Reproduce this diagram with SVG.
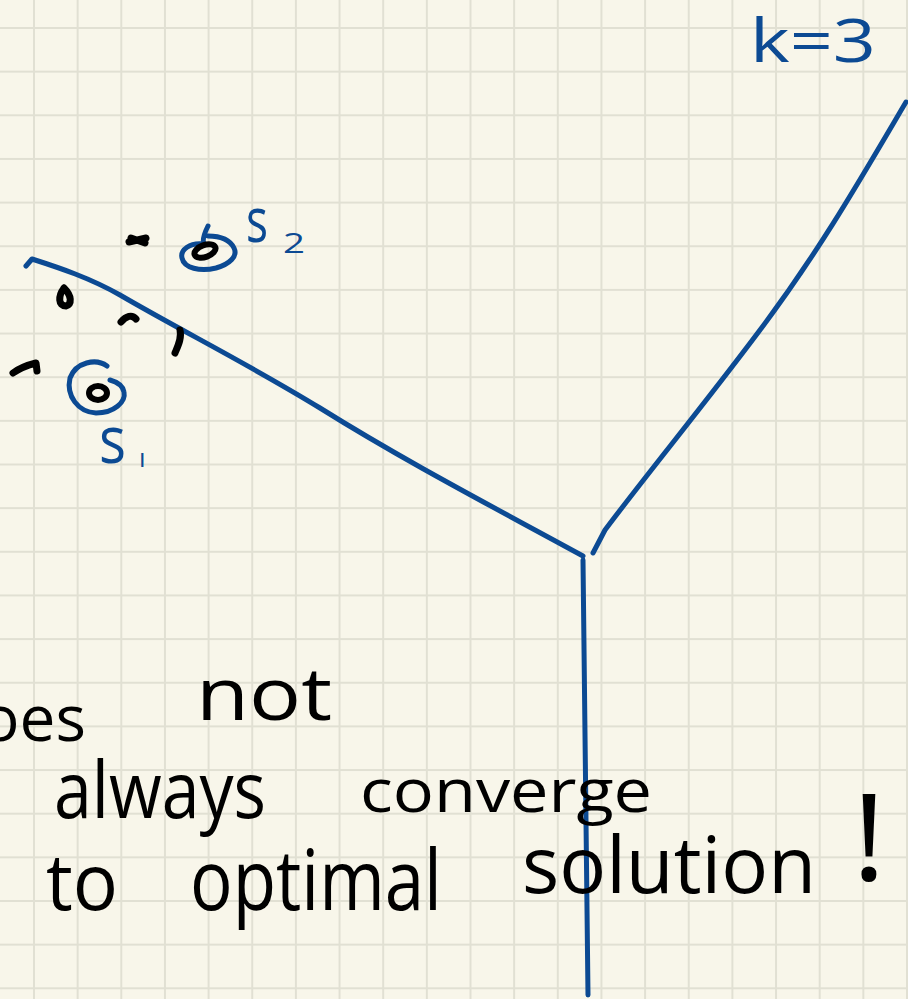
<svg xmlns="http://www.w3.org/2000/svg" width="908" height="999" viewBox="0 0 908 999">
<defs>
<pattern id="grid" patternUnits="userSpaceOnUse" x="33" y="27" width="43.65" height="43.65">
<rect x="0" y="0" width="2" height="43.65" fill="#e1e0d3"/>
<rect x="0" y="0" width="43.65" height="2" fill="#e1e0d3"/>
</pattern>
<style>
.blue{fill:none;stroke:#0c4a93;stroke-width:5;stroke-linecap:round;stroke-linejoin:round}
.ink{fill:none;stroke:#000;stroke-width:7;stroke-linecap:round;stroke-linejoin:round}
.hw{font-family:"Open Sans","Liberation Sans",sans-serif;fill:#000}
.hwb{font-family:"Open Sans","Liberation Sans",sans-serif;fill:#0c4a93}
</style>
</defs>
<rect width="908" height="999" fill="#f8f6ea"/>
<rect width="908" height="999" fill="url(#grid)"/>

<g id="boundaries">
<path class="blue" d="M26,266 L32,259 C60,268 90,278 120,295 C180,330 250,365 320,408 C400,458 480,500 583,556"/>
<path class="blue" d="M593,553 L605,530 C650,470 700,410 760,330 C820,250 860,180 906,102"/>
<path class="blue" d="M583,560 C584,650 586,800 588,995"/>
</g>

<g id="points">
<path class="ink" d="M129,242 L146,238 M131,238 L145,243"/>
<path class="ink" d="M64,288 C58,296 58,306 66,306 C72,304 72,296 64,288"/>
<path class="ink" d="M121,322 C126,316 132,314 136,319"/>
<path class="ink" d="M180,330 C182,338 178,346 175,353"/>
<path class="ink" d="M13,373 C20,368 28,365 36,363 L37,371"/>
</g>

<g id="s2">
<path class="blue" d="M208,226 C204,234 202,240 204,244 C190,242 180,250 182,258 C184,268 200,272 216,268 C230,264 238,256 234,248 C230,240 220,236 208,236"/>
<ellipse cx="205" cy="251" rx="11" ry="6" transform="rotate(-20 205 251)" fill="none" stroke="#000" stroke-width="6"/>
<text class="hwb" x="246" y="242" font-size="62" textLength="22" lengthAdjust="spacingAndGlyphs">s</text>
<text class="hwb" x="283" y="253" font-size="28" textLength="22" lengthAdjust="spacingAndGlyphs">2</text>
</g>

<g id="s1">
<path class="blue" d="M107,366 C96,358 76,362 70,378 C66,396 78,412 96,413 C114,413 126,402 124,392 C123,386 117,382 110,380"/>
<ellipse cx="98" cy="393" rx="9" ry="7" fill="none" stroke="#000" stroke-width="6"/>
<text class="hwb" x="99" y="463" font-size="66" textLength="27" lengthAdjust="spacingAndGlyphs">s</text>
<text class="hwb" x="139" y="467" font-size="26">ı</text>
</g>

<g id="k3">
<text class="hwb" x="750" y="62" font-size="60" textLength="126" lengthAdjust="spacingAndGlyphs">k=3</text>
</g>

<g id="caption">
<text class="hw" x="86" y="741" font-size="64" text-anchor="end">does</text>
<text class="hw" x="196" y="720" font-size="74" textLength="136" lengthAdjust="spacingAndGlyphs">not</text>
<text class="hw" x="54" y="818" font-size="78" textLength="212" lengthAdjust="spacingAndGlyphs">always</text>
<text class="hw" x="360" y="812" font-size="60" textLength="292" lengthAdjust="spacingAndGlyphs">converge</text>
<text class="hw" x="46" y="910" font-size="78" textLength="72" lengthAdjust="spacingAndGlyphs">to</text>
<text class="hw" x="190" y="910" font-size="84" textLength="252" lengthAdjust="spacingAndGlyphs">optimal</text>
<text class="hw" x="522" y="893" font-size="78" textLength="294" lengthAdjust="spacingAndGlyphs">solution</text>
<text class="hw" x="852" y="880" font-size="120" textLength="34" lengthAdjust="spacingAndGlyphs">!</text>
</g>
</svg>
